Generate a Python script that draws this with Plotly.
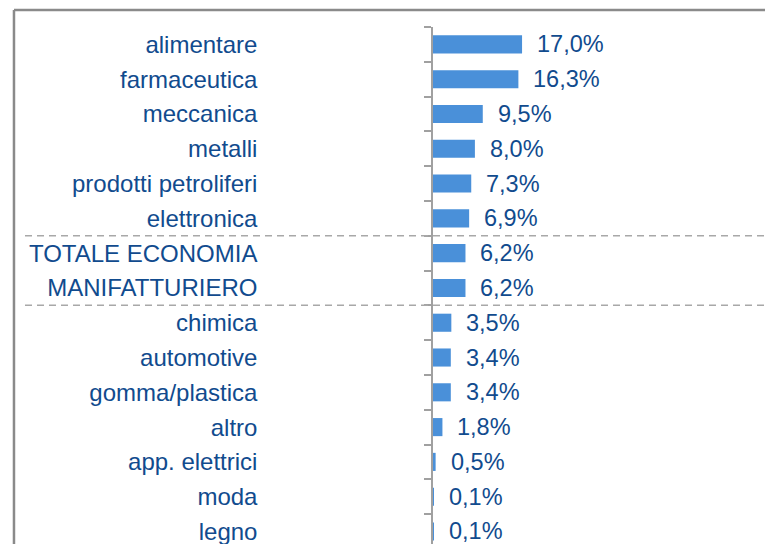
import plotly.graph_objects as go

categories = ["alimentare", "farmaceutica", "meccanica", "metalli", "prodotti petroliferi",
              "elettronica", "TOTALE ECONOMIA", "MANIFATTURIERO", "chimica", "automotive",
              "gomma/plastica", "altro", "app. elettrici", "moda", "legno"]
values = [17.0, 16.3, 9.5, 8.0, 7.3, 6.9, 6.2, 6.2, 3.5, 3.4, 3.4, 1.8, 0.5, 0.1, 0.1]
value_labels = ["17,0%", "16,3%", "9,5%", "8,0%", "7,3%", "6,9%", "6,2%", "6,2%",
                "3,5%", "3,4%", "3,4%", "1,8%", "0,5%", "0,1%", "0,1%"]
separators_after = ["elettronica", "MANIFATTURIERO"]

FONT = "Liberation Sans, Arial, sans-serif"
TEXT_COLOR = "#114b8e"
BAR_COLOR = "#4a90d9"

fig = go.Figure()
fig.add_trace(go.Bar(
    x=values, y=categories, orientation="h",
    marker=dict(color=BAR_COLOR, line=dict(width=0)),
    hoverinfo="skip",
))

for c, v, t in zip(categories, values, value_labels):
    fig.add_annotation(x=v, y=c, xref="x", yref="y", text=t, showarrow=False,
                       xanchor="left", yanchor="middle", xshift=13,
                       font=dict(family=FONT, size=23.5, color=TEXT_COLOR))

shapes = []
for name in separators_after:
    idx = categories.index(name) + 0.5
    shapes.append(dict(type="line", xref="paper", yref="y", x0=-1.2, x1=1, y0=idx, y1=idx,
                       line=dict(color="#a8a8a8", width=1.5, dash="7px,5px")))
# outer frame (top and left edges)
shapes.append(dict(type="line", xref="paper", yref="paper", x0=-1.2324, x1=1.01, y0=1.0329, y1=1.0329,
                   line=dict(color="#8a8a8a", width=2.5)))
shapes.append(dict(type="line", xref="paper", yref="paper", x0=-1.2324, x1=-1.2324, y0=1.0329, y1=-0.05,
                   line=dict(color="#8a8a8a", width=2.5)))

fig.update_layout(
    width=765, height=536,
    margin=dict(l=425, r=0, t=19, b=0),
    paper_bgcolor="white", plot_bgcolor="white",
    showlegend=False, bargap=0.48,
    shapes=shapes,
    xaxis=dict(visible=False, range=[0, 64.9]),
    yaxis=dict(type="category", range=[14.36, -0.5], showline=True, linecolor="#a0a0a0",
               linewidth=1.5, ticks="outside", ticklen=7, tickwidth=1.5, tickcolor="#a0a0a0",
               tickson="boundaries", showgrid=False, zeroline=False,
               ticklabelstandoff=169,
               tickfont=dict(family=FONT, size=24, color=TEXT_COLOR)),
)

fig.write_html("out.html")
